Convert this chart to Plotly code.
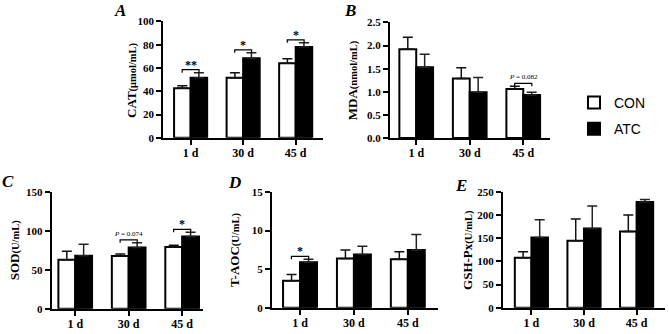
import plotly.graph_objects as go

W, H = 669, 334

days = ["1 d", "30 d", "45 d"]

cat_con = [42.5, 51.7, 64.0]
cat_con_err = [2.3, 4.3, 4.0]
cat_atc = [51.7, 68.3, 78.0]
cat_atc_err = [4.3, 4.7, 3.7]
cat_sig = ["**", "*", "*"]

mda_con = [1.92, 1.29, 1.06]
mda_con_err = [0.26, 0.23, 0.06]
mda_atc = [1.53, 0.99, 0.93]
mda_atc_err = [0.28, 0.32, 0.06]
mda_sig = ["", "", "<i>P</i> = 0.082"]

sod_con = [63.0, 68.0, 79.6]
sod_con_err = [11.0, 2.4, 2.1]
sod_atc = [68.3, 79.0, 93.0]
sod_atc_err = [14.7, 6.0, 5.6]
sod_sig = ["", "<i>P</i> = 0.074", "*"]

taoc_con = [3.5, 6.4, 6.3]
taoc_con_err = [0.8, 1.1, 0.95]
taoc_atc = [5.9, 6.9, 7.5]
taoc_atc_err = [0.4, 1.06, 2.0]
taoc_sig = ["*", "", ""]

gsh_con = [108.0, 145.0, 164.6]
gsh_con_err = [13.0, 47.0, 36.0]
gsh_atc = [152.0, 171.5, 228.5]
gsh_atc_err = [38.0, 48.5, 5.5]
gsh_sig = ["", "", ""]

titles = ["CAT", "MDA", "SOD", "T-AOC", "GSH-Px"]
units = ["(μmol/mL)", "(nmol/mL)", "(U/mL)", "(U/mL)", "(U/mL)"]
letters = ["A", "B", "C", "D", "E"]
yranges = [100, 2.5, 150, 15, 250]
ydticks = [20, 0.5, 50, 5, 50]

# layout (pixel boxes: left, right, top, bottom) and x ranges
boxes = [(163.3, 323, 16, 136.7), (390, 550, 17, 137), (51.7, 203, 193.3, 314),
         (272, 438, 193, 313), (503, 665, 193, 313)]
xr = [(-0.52, 2.52), (-0.49, 2.5), (-0.44, 2.39), (-0.52, 2.56), (-0.54, 2.54)]
letter_pos = [(120, 5), (350, 5), (8, 182), (235, 183), (461, 186)]
title_off = [32, 38, 37, 37, 35]

panels = [
    (cat_con, cat_con_err, cat_atc, cat_atc_err, cat_sig),
    (mda_con, mda_con_err, mda_atc, mda_atc_err, mda_sig),
    (sod_con, sod_con_err, sod_atc, sod_atc_err, sod_sig),
    (taoc_con, taoc_con_err, taoc_atc, taoc_atc_err, taoc_sig),
    (gsh_con, gsh_con_err, gsh_atc, gsh_atc_err, gsh_sig),
]

SERIF = "Liberation Serif"
fig = go.Figure()
shapes = []
annotations = []
xpos = list(range(len(days)))

for k, (con, con_e, atc, atc_e, sig) in enumerate(panels):
    n = k + 1
    xa = "x" if n == 1 else f"x{n}"
    ya = "y" if n == 1 else f"y{n}"
    fig.add_trace(go.Bar(
        x=xpos, y=con, name="CON", xaxis=xa, yaxis=ya,
        marker=dict(color="white", line=dict(color="black", width=2)),
        error_y=dict(type="data", symmetric=False, array=con_e, arrayminus=[0] * 3,
                     color="#111", thickness=1.5, width=5),
        showlegend=(k == 0), legendgroup="con"))
    fig.add_trace(go.Bar(
        x=xpos, y=atc, name="ATC", xaxis=xa, yaxis=ya,
        marker=dict(color="black", line=dict(color="black", width=2)),
        error_y=dict(type="data", symmetric=False, array=atc_e, arrayminus=[0] * 3,
                     color="#222", thickness=1.5, width=5),
        showlegend=(k == 0), legendgroup="atc"))

    l, r, t, b = boxes[k]
    xd = [l / W, r / W]
    yd = [1 - b / H, 1 - t / H]
    xkey = "xaxis" if n == 1 else f"xaxis{n}"
    ykey = "yaxis" if n == 1 else f"yaxis{n}"
    fig.layout[xkey] = dict(
        domain=xd, anchor=ya, range=list(xr[k]), type="linear",
        tickvals=xpos, ticktext=days, showline=True, linecolor="black", linewidth=2,
        ticks="outside", ticklen=5, tickwidth=2, tickcolor="black",
        ticklabelstandoff=-2,
        showgrid=False, zeroline=False,
        tickfont=dict(family=SERIF, size=12, color="black", weight="bold"))
    fig.layout[ykey] = dict(
        domain=yd, anchor=xa, range=[0, yranges[k]], dtick=ydticks[k],
        tickformat=".1f" if k == 1 else "d",
        showline=True, linecolor="black", linewidth=2,
        ticks="outside", ticklen=5, tickwidth=2, tickcolor="black",
        showgrid=False, zeroline=False,
        tickfont=dict(family=SERIF, size=11, color="black", weight="bold"))

    # y title
    annotations.append(dict(
        x=(l - title_off[k]) / W, y=1 - (t + b) / 2 / H, xref="paper", yref="paper",
        text=f"{titles[k]}<span style='font-size:10.5px'>{units[k]}</span>",
        textangle=-90, showarrow=False, xanchor="center", yanchor="middle",
        font=dict(family=SERIF, size=13, color="black", weight="bold")))
    # panel letter
    lx, ly = letter_pos[k]
    annotations.append(dict(
        x=lx / W, y=1 - ly / H, xref="paper", yref="paper", text=f"<i>{letters[k]}</i>",
        showarrow=False, xanchor="center", yanchor="middle",
        font=dict(family=SERIF, size=17, color="black", weight="bold")))

    # significance brackets
    rng = yranges[k]
    for i, s in enumerate(sig):
        if not s:
            continue
        top = max(con[i] + con_e[i], atc[i] + atc_e[i])
        yb = top + 0.025 * rng
        tick = 0.025 * rng
        x0, x1 = i - 0.16, i + 0.16
        shapes.append(dict(type="path", xref=xa, yref=ya,
                           path=f"M{x0},{yb - tick} L{x0},{yb} L{x1},{yb} L{x1},{yb - tick}",
                           line=dict(color="black", width=1.2)))
        is_p = "P" in s
        annotations.append(dict(
            x=i, y=yb, xref=xa, yref=ya, text=s, showarrow=False,
            xanchor="center", yanchor="bottom", yshift=(0 if is_p else -4),
            font=dict(family=SERIF, size=(7 if is_p else 12), color="black",
                      weight=("normal" if is_p else "bold"))))

fig.update_layout(
    width=W, height=H, margin=dict(l=0, r=0, t=0, b=0),
    paper_bgcolor="white", plot_bgcolor="white",
    barmode="group", bargap=0.37, bargroupgap=0,
    shapes=shapes, annotations=annotations,
    legend=dict(x=574 / W, y=1 - 84 / H, xanchor="left", yanchor="top",
                traceorder="grouped", tracegroupgap=5,
                font=dict(family="Liberation Sans", size=14, color="black"),
                bgcolor="rgba(0,0,0,0)"),
)

fig.write_html("out.html", config={"displayModeBar": False},
               post_script="document.body.style.margin='0';document.body.style.overflow='hidden';")
